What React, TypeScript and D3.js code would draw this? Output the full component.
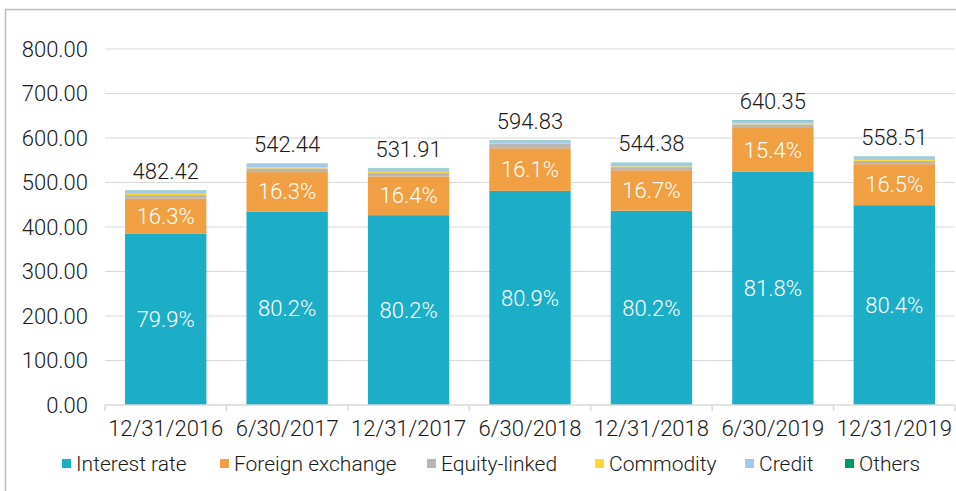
import React from "react";
import * as d3 from "d3";

const categories = ["12/31/2016", "6/30/2017", "12/31/2017", "6/30/2018", "12/31/2018", "6/30/2019", "12/31/2019"];
const totals = [482.42, 542.44, 531.91, 594.83, 544.38, 640.35, 558.51];
const seriesNames = ["Interest rate", "Foreign exchange", "Equity-linked", "Commodity", "Credit", "Others"];
const interestPct = [79.9, 80.2, 80.2, 80.9, 80.2, 81.8, 80.4];
const fxPct = [16.3, 16.3, 16.4, 16.1, 16.7, 15.4, 16.5];
const equityPct = [1.6, 1.5, 1.4, 1.6, 1.3, 1.3, 1.3];
const commodityPct = [0.5, 0.4, 0.4, 0.4, 0.3, 0.3, 0.4];
const creditPct = [1.6, 1.5, 1.5, 0.9, 1.4, 1.1, 1.3];
const othersPct = [0.1, 0.1, 0.1, 0.1, 0.1, 0.1, 0.1];
const yTicks = [0, 100, 200, 300, 400, 500, 600, 700, 800];

const colors = ["#1BAEC6", "#F0A042", "#B7B7B7", "#FFD92F", "#A6C8E8", "#009966"];
const FONT = "Roboto, 'Open Sans', sans-serif";

export default function App() {
  const W = 956, H = 491;
  const left = 105, right = 955, top = 49, bottom = 405;
  const x = d3.scaleBand<string>().domain(categories).range([left, right]).paddingInner(0.33).paddingOuter(0.165);
  const y = d3.scaleLinear().domain([0, 800]).range([bottom, top]);
  const pcts = [interestPct, fxPct, equityPct, commodityPct, creditPct, othersPct];
  const rows = categories.map((c, i) => {
    const r: any = { cat: c };
    seriesNames.forEach((s, k) => { r[s] = (totals[i] * pcts[k][i]) / 100; });
    return r;
  });
  const stack = d3.stack<any>().keys(seriesNames)(rows);
  const step = (right - left) / categories.length;
  const legendX = [62, 220, 427, 595, 745, 845];

  return (
    <svg width={W} height={H} style={{ position: "absolute", left: 0, top: 0, background: "#fff" }} fontFamily={FONT} fontWeight={300}>
      <rect x={5.5} y={9.5} width={W + 10} height={H + 10} fill="none" stroke="#BDBDBD" strokeWidth={1.5} />
      {yTicks.map((t) => (
        <g key={t}>
          {t > 0 && <line x1={left} x2={right} y1={y(t)} y2={y(t)} stroke="#D9D9D9" strokeWidth={1} />}
          <text x={88} y={y(t)} dy="0.35em" textAnchor="end" fontSize={22} fill="#1a1a1a">{t.toFixed(2)}</text>
        </g>
      ))}
      {stack.map((layer, k) => (
        <g key={layer.key} fill={colors[k]}>
          {layer.map((d, i) => (
            <rect key={i} x={x(categories[i])} width={x.bandwidth()} y={y(d[1])} height={Math.max(0, y(d[0]) - y(d[1]))} />
          ))}
        </g>
      ))}
      <line x1={left} x2={right} y1={bottom} y2={bottom} stroke="#D9D9D9" strokeWidth={1.5} />
      {d3.range(categories.length + 1).map((i) => (
        <line key={i} x1={left + i * step} x2={left + i * step} y1={bottom} y2={bottom + 6} stroke="#D9D9D9" strokeWidth={1.5} />
      ))}
      {categories.map((c, i) => {
        const cx = (x(c) as number) + x.bandwidth() / 2;
        const ir = stack[0][i];
        const fx = stack[1][i];
        return (
          <g key={c}>
            <text x={cx} y={428} dy="0.35em" textAnchor="middle" fontSize={22} fill="#1a1a1a">{c}</text>
            <text x={cx} y={y(totals[i]) - 19} dy="0.35em" textAnchor="middle" fontSize={22} fill="#1a1a1a">{totals[i].toFixed(2)}</text>
            <text x={cx} y={(y(ir[0]) + y(ir[1])) / 2} dy="0.35em" textAnchor="middle" fontSize={22} fill="#fff">{interestPct[i].toFixed(1)}%</text>
            <text x={cx} y={(y(fx[0]) + y(fx[1])) / 2} dy="0.35em" textAnchor="middle" fontSize={22} fill="#fff">{fxPct[i].toFixed(1)}%</text>
          </g>
        );
      })}
      {seriesNames.map((s, k) => (
        <g key={s}>
          <rect x={legendX[k]} y={459} width={9} height={9} fill={colors[k]} />
          <text x={legendX[k] + 14} y={464} dy="0.35em" fontSize={21} fill="#1a1a1a">{s}</text>
        </g>
      ))}
    </svg>
  );
}
